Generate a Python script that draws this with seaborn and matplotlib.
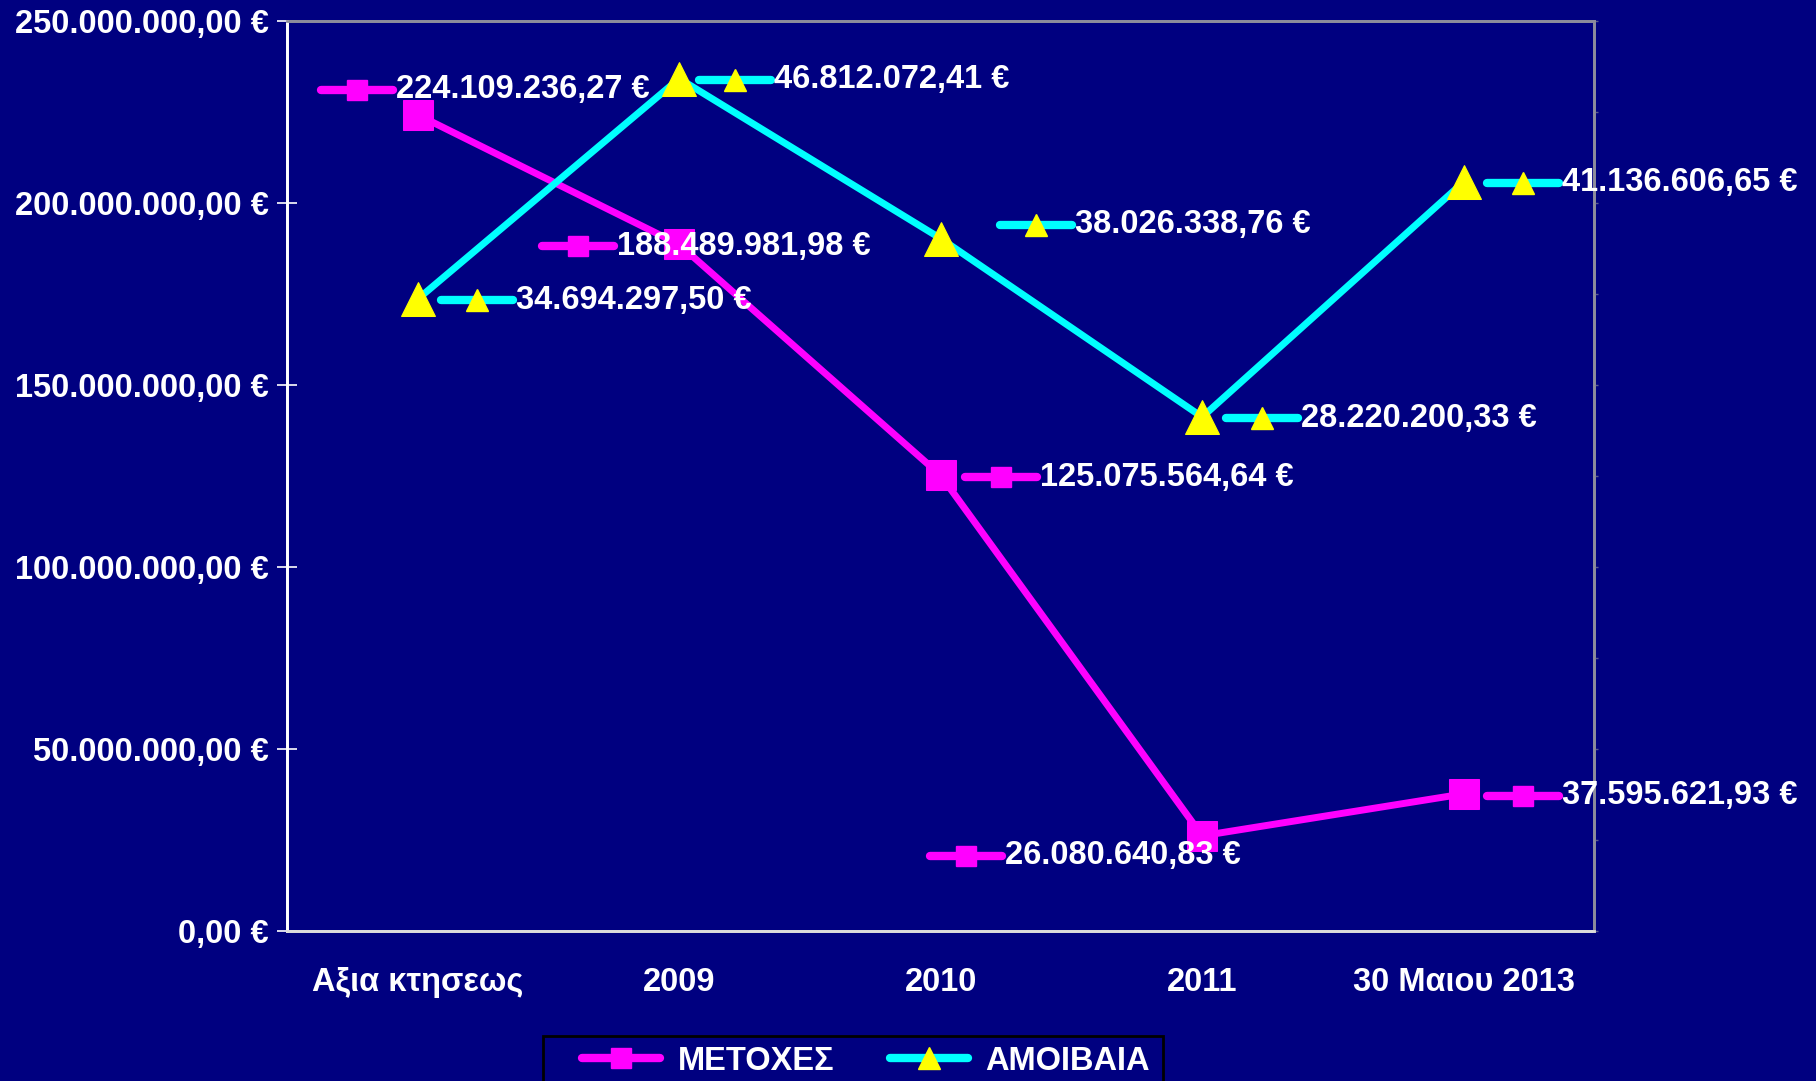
import numpy as np
import matplotlib
matplotlib.use("Agg")
import matplotlib.pyplot as plt
import matplotlib.ticker as mticker
from matplotlib.lines import Line2D
from matplotlib.markers import MarkerStyle
from matplotlib.patches import Rectangle
from matplotlib.transforms import offset_copy
import seaborn as sns

CATEGORIES = ["Αξια κτησεως", "2009", "2010", "2011", "30 Μαιου 2013"]
METOXES = [224109236.27, 188489981.98, 125075564.64, 26080640.83, 37595621.93]
AMOIBAIA = [34694297.50, 46812072.41, 38026338.76, 28220200.33, 41136606.65]
SERIES_NAMES = ["ΜΕΤΟΧΕΣ", "ΑΜΟΙΒΑΙΑ"]

# label key offsets (pixels, from the point) for each data label
MET_OFFSETS = [(-61, 25), (-101, -2), (60, -2), (-236, -20), (59, -2)]
AMO_OFFSETS = [(59, -1), (56, -1), (95, 14), (60, -1), (59, -1)]

NAVY = "#000080"
MAGENTA = "#FF00FF"
CYAN = "#00FFFF"
YELLOW = "#FFFF00"
FS = 23.5


def euro(v):
    s = f"{v:,.2f}".replace(",", "X").replace(".", ",").replace("X", ".")
    return s + " €"


def add_labels(fig, ax, top_ax, values, offsets, color, marker, mfc, ms):
    key = MarkerStyle("_", capstyle="round")
    for i, (v, (dx, dy)) in enumerate(zip(values, offsets)):
        tr = offset_copy(ax.transData, fig=fig, x=dx, y=dy, units="dots")
        top_ax.plot([i], [v], transform=tr, marker=key, ms=52, mew=6,
                    color=color, clip_on=False, zorder=6)
        top_ax.plot([i], [v], transform=tr, marker=marker, ms=ms, mfc=mfc,
                    mec=mfc, ls="none", clip_on=False, zorder=7)
        top_ax.annotate(euro(v), xy=(i, v), xycoords=ax.transData,
                        xytext=(dx + 39, dy), textcoords="offset pixels",
                        ha="left", va="center", color="white",
                        fontsize=FS, fontweight="bold", zorder=8,
                        annotation_clip=False)


def create_plot():
    sns.set_theme(style="white")
    plt.rcParams["font.family"] = ["Liberation Sans", "DejaVu Sans"]
    plt.rcParams["axes.unicode_minus"] = False

    fig = plt.figure(figsize=(18.16, 10.81), dpi=100, facecolor=NAVY)
    ax = fig.add_axes([0.158, 0.139, 0.72, 0.842])
    ax.set_facecolor(NAVY)

    sns.lineplot(x=CATEGORIES, y=METOXES, ax=ax, sort=False, color=MAGENTA,
                 lw=5, marker="s", markersize=21, markeredgecolor=MAGENTA,
                 markerfacecolor=MAGENTA, zorder=3)

    ax2 = ax.twinx()
    ax2.patch.set_visible(False)
    sns.lineplot(x=CATEGORIES, y=AMOIBAIA, ax=ax2, sort=False, color=CYAN,
                 lw=5, marker="^", markersize=24, markeredgecolor=YELLOW,
                 markerfacecolor=YELLOW, zorder=3)

    ax.set_xlim(-0.5, 4.5)
    ax.set_ylim(0, 250_000_000)
    ax2.set_ylim(0, 50_000_000)

    ax.set_xlabel("")
    ax.set_ylabel("")
    ax2.set_ylabel("")

    ax.set_yticks(np.arange(0, 250_000_001, 50_000_000))
    ax.yaxis.set_major_formatter(mticker.FuncFormatter(lambda v, p: euro(v)))
    ax.tick_params(axis="y", direction="inout", length=14, width=1.2,
                   color="white", pad=6, labelsize=FS, labelcolor="white")
    for t in ax.get_yticklabels():
        t.set_fontweight("bold")

    ax.set_xticks(range(len(CATEGORIES)))
    ax.set_xticklabels(CATEGORIES)
    ax.xaxis.set_minor_locator(mticker.FixedLocator(np.arange(-0.5, 5, 1)))
    ax.tick_params(axis="x", which="major", length=0, pad=26, labelsize=FS,
                   labelcolor="white")
    ax.tick_params(axis="x", which="minor", direction="inout", length=14,
                   width=1.2, color="white")
    for t in ax.get_xticklabels():
        t.set_fontweight("bold")

    ax2.set_yticks(np.arange(0, 50_000_001, 5_000_000))
    ax2.set_yticklabels([])
    ax2.tick_params(axis="y", direction="out", length=3, width=1,
                    color="#5a5a90")

    for a in (ax, ax2):
        a.spines["top"].set_color("#8c8c9c")
        a.spines["right"].set_color("#8c8c9c")
        a.spines["left"].set_color("white")
        a.spines["bottom"].set_color("#dcdcdc")
        for s in a.spines.values():
            s.set_linewidth(2)
    ax.grid(False)
    ax2.grid(False)

    add_labels(fig, ax, ax2, METOXES, MET_OFFSETS, MAGENTA, "s", MAGENTA, 14)
    add_labels(fig, ax2, ax2, AMOIBAIA, AMO_OFFSETS, CYAN, "^", YELLOW, 16)

    # legend frame, running off the bottom edge like the original
    fig.patches.append(Rectangle((543 / 1816, -0.02), 620 / 1816, 0.0616,
                                 transform=fig.transFigure, facecolor=NAVY,
                                 edgecolor="black", lw=2, zorder=1))
    handles = [
        Line2D([], [], color=MAGENTA, lw=6, marker="s", ms=14,
               mfc=MAGENTA, mec=MAGENTA, solid_capstyle="round"),
        Line2D([], [], color=CYAN, lw=6, marker="^", ms=16,
               mfc=YELLOW, mec=YELLOW, solid_capstyle="round"),
    ]
    leg = fig.legend(handles, SERIES_NAMES, loc="center left",
                     bbox_to_anchor=(582 / 1816, 0.0185),
                     bbox_transform=fig.transFigure, ncol=2, frameon=False,
                     handlelength=2.4, handletextpad=0.53,
                     columnspacing=1.7, borderpad=0, borderaxespad=0,
                     prop={"weight": "bold", "size": FS})
    leg.set_zorder(5)
    for t in leg.get_texts():
        t.set_color("white")

    fig.savefig("out.png", dpi=100, facecolor=NAVY)
    plt.close(fig)


if __name__ == "__main__":
    create_plot()
